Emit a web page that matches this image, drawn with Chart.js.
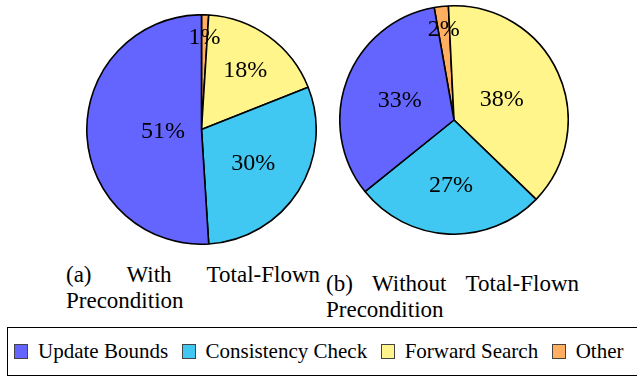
<!DOCTYPE html>
<html>
<head>
<meta charset="utf-8">
<script src="https://cdn.jsdelivr.net/npm/chart.js@4.4.1/dist/chart.umd.min.js"></script>
<style>
  body {
    margin: 0;
    width: 637px;
    height: 378px;
    background: #fff;
    position: relative;
    overflow: hidden;
    font-family: "Liberation Serif", "Times New Roman", serif;
    color: #000;
  }
  .pie { position: absolute; }
  #pie-a-wrap { left: 86px; top: 14px; width: 231px; height: 231px; }
  #pie-b-wrap { left: 339px; top: 5px; width: 230px; height: 230px; }
  .caption {
    position: absolute;
    width: 254px;
    font-size: 23px;
    line-height: 26px;
    text-align: justify;
    text-align-last: left;
  }
  #caption-a { left: 66px; top: 262px; }
  #caption-b { left: 326px; top: 271px; width: 253px; }
  #legend {
    position: absolute;
    left: 7px;
    top: 327px;
    width: 640px;
    height: 49px;
    border: 1px solid #000;
    display: flex;
    align-items: center;
    padding-left: 6px;
    box-sizing: border-box;
    font-size: 21px;
  }
  .item { display: flex; align-items: center; margin-right: 13.5px; }
  .swatch {
    width: 12px;
    height: 13px;
    border: 1px solid #444;
    margin-right: 10px;
  }
</style>
</head>
<body>
<div class="pie" id="pie-a-wrap"><canvas id="pie-a"></canvas></div>
<div class="pie" id="pie-b-wrap"><canvas id="pie-b"></canvas></div>
<div class="caption" id="caption-a">(a) With Total-Flown Precondition</div>
<div class="caption" id="caption-b">(b) Without Total-Flown Precondition</div>
<div id="legend"></div>
<script>
// Categories and shares (percent), in legend order
const CATEGORIES = ["Update Bounds", "Consistency Check", "Forward Search", "Other"];
const COLORS = ["#6464ff", "#40c8f2", "#fff58a", "#ffaf5f"];
const WITH_PRECONDITION = [51, 30, 18, 1];
const WITHOUT_PRECONDITION = [33, 27, 38, 2];

const LABEL_FONT = "24px 'Liberation Serif'";

// Slices run counter-clockwise in legend order, so feed them reversed to Chart.js (clockwise)
const reversed = (arr) => arr.slice().reverse();

// Percentage text inside each slice; small slices get pushed further out
const pctLabels = {
  id: "pctLabels",
  afterDatasetsDraw(chart) {
    const ctx = chart.ctx;
    const meta = chart.getDatasetMeta(0);
    const values = chart.data.datasets[0].data;
    const total = values.reduce((a, b) => a + b, 0);
    ctx.save();
    ctx.font = LABEL_FONT;
    ctx.fillStyle = "#000";
    ctx.textAlign = "center";
    ctx.textBaseline = "middle";
    meta.data.forEach((arc, i) => {
      const { x, y, startAngle, endAngle, outerRadius } = arc.getProps(["x", "y", "startAngle", "endAngle", "outerRadius"], true);
      const pct = (values[i] * 100) / total;
      const mid = (startAngle + endAngle) / 2;
      const dist = outerRadius * (0.82 - 0.0095 * pct);
      ctx.fillText(Math.round(pct) + "%", x + Math.cos(mid) * dist, y + Math.sin(mid) * dist + 1);
    });
    ctx.restore();
  },
};

const makePie = (id, values, rotation) => {
  return new Chart(document.getElementById(id), {
    type: "pie",
    data: {
      labels: reversed(CATEGORIES),
      datasets: [
        {
          data: reversed(values),
          backgroundColor: reversed(COLORS),
          borderColor: "#000",
          borderWidth: 1.6,
        },
      ],
    },
    options: {
      responsive: true,
      maintainAspectRatio: false,
      animation: false,
      rotation,
      layout: { padding: 0 },
      plugins: {
        legend: { display: false },
        tooltip: { enabled: false },
      },
    },
    plugins: [pctLabels],
  });
};

// Shared legend underneath both pies
const legend = document.getElementById("legend");
CATEGORIES.forEach((name, i) => {
  const item = document.createElement("div");
  item.className = "item";
  const sw = document.createElement("span");
  sw.className = "swatch";
  sw.style.background = COLORS[i];
  const txt = document.createElement("span");
  txt.textContent = name;
  item.appendChild(sw);
  item.appendChild(txt);
  legend.appendChild(item);
});

// canvas text needs the serif face loaded first
document.fonts.load(LABEL_FONT).then(() => {
  makePie("pie-a", WITH_PRECONDITION, 0);
  makePie("pie-b", WITHOUT_PRECONDITION, -10);
});
</script>
</body>
</html>
